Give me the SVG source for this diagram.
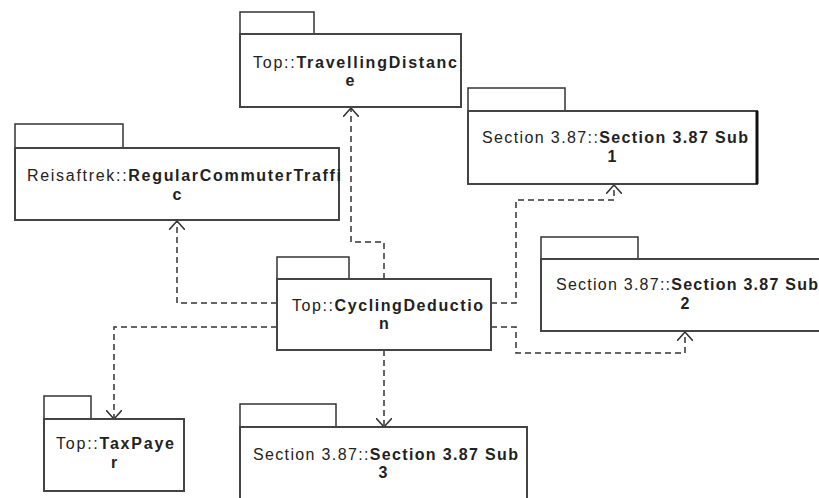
<svg xmlns="http://www.w3.org/2000/svg" width="819" height="498" viewBox="0 0 819 498">
<style>
.tab{fill:#fff;stroke:#333;stroke-width:1.5}
.body{fill:#fff;stroke:#444;stroke-width:2}
.t{font-family:"Liberation Sans",Arial,sans-serif;font-size:16px;fill:#222}
.b{font-weight:bold}
.c{stroke:#333;stroke-width:1.5;fill:none;stroke-dasharray:6 4}
</style>
<defs>
<marker id="arr" viewBox="0 0 10 16" refX="9" refY="8" markerWidth="10" markerHeight="16" markerUnits="userSpaceOnUse" orient="auto">
<path d="M0,0 L9,8 L0,16" fill="none" stroke="#333" stroke-width="1.5" stroke-dasharray="none"/>
</marker>
</defs>
<rect width="819" height="498" fill="#fff"/>
<g id="connectors">
<path class="c" d="M384,279 V242 H351 V108" marker-end="url(#arr)"/>
<path class="c" d="M277,303 H177 V221" marker-end="url(#arr)"/>
<path class="c" d="M277,327 H114 V419" marker-end="url(#arr)"/>
<path class="c" d="M491,303 H516 V200 H614 V185" marker-end="url(#arr)"/>
<path class="c" d="M491,327 H516 V353 H685 V332" marker-end="url(#arr)"/>
<path class="c" d="M384,350 V427" marker-end="url(#arr)"/>
</g>
<g id="travellingDistance">
<rect class="tab" x="240" y="12" width="74" height="22"/>
<rect class="body" x="240" y="34" width="221" height="73"/>
<text class="t" x="253" y="68" textLength="204" lengthAdjust="spacing">Top::<tspan class="b">TravellingDistanc</tspan></text>
<text class="t b" x="350" y="86" text-anchor="middle">e</text>
</g>
<g id="regularCommuterTraffic">
<rect class="tab" x="15" y="124" width="108" height="24"/>
<rect class="body" x="15" y="148" width="324" height="72"/>
<text class="t" x="27" y="181" textLength="314" lengthAdjust="spacing">Reisaftrek::<tspan class="b">RegularCommuterTraffi</tspan></text>
<text class="t b" x="177" y="200" text-anchor="middle">c</text>
</g>
<g id="sub1">
<rect class="tab" x="468" y="88" width="97" height="23"/>
<rect class="body" x="468" y="111" width="289" height="73"/>
<line x1="757" y1="111" x2="757" y2="184" stroke="#111" stroke-width="3"/>
<text class="t" x="482" y="143" textLength="266" lengthAdjust="spacing">Section 3.87::<tspan class="b">Section 3.87 Sub</tspan></text>
<text class="t b" x="612" y="162" text-anchor="middle">1</text>
</g>
<g id="cyclingDeduction">
<rect class="tab" x="277" y="257" width="72" height="22"/>
<rect class="body" x="277" y="279" width="214" height="71"/>
<text class="t" x="292" y="311" textLength="191" lengthAdjust="spacing">Top::<tspan class="b">CyclingDeductio</tspan></text>
<text class="t b" x="384" y="329" text-anchor="middle">n</text>
</g>
<g id="sub2">
<rect class="tab" x="541" y="237" width="97" height="22"/>
<rect class="body" x="541" y="259" width="290" height="72"/>
<text class="t" x="556" y="290" textLength="262" lengthAdjust="spacing">Section 3.87::<tspan class="b">Section 3.87 Sub</tspan></text>
<text class="t b" x="685" y="309" text-anchor="middle">2</text>
</g>
<g id="taxPayer">
<rect class="tab" x="44" y="396" width="47" height="23"/>
<rect class="body" x="44" y="419" width="140" height="72"/>
<text class="t" x="56" y="449" textLength="118" lengthAdjust="spacing">Top::<tspan class="b">TaxPaye</tspan></text>
<text class="t b" x="114" y="468" text-anchor="middle">r</text>
</g>
<g id="sub3">
<rect class="tab" x="240" y="404" width="96" height="23"/>
<rect class="body" x="240" y="427" width="287" height="80"/>
<text class="t" x="253" y="460" textLength="265" lengthAdjust="spacing">Section 3.87::<tspan class="b">Section 3.87 Sub</tspan></text>
<text class="t b" x="383" y="478" text-anchor="middle">3</text>
</g>
</svg>
